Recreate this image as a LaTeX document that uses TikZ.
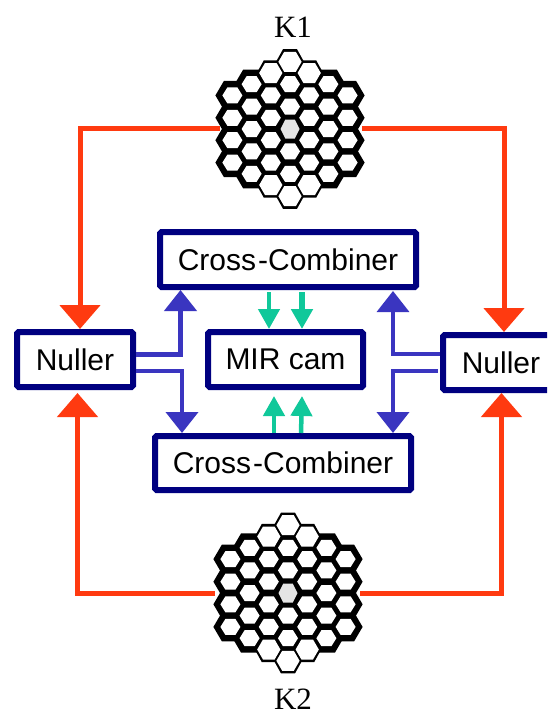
\documentclass[tikz,border=0pt]{standalone}
\usepackage{fontspec}
\setmainfont{Liberation Sans}
\newfontfamily\serifkay{Liberation Serif}
\usetikzlibrary{arrows.meta,calc}
\definecolor{navybox}{HTML}{000080}
\definecolor{redline}{HTML}{FF3A10}
\definecolor{blueline}{HTML}{3A35C0}
\definecolor{greenline}{HTML}{10C89A}
\definecolor{mirror}{HTML}{E4E4E4}
\tikzset{
  boxnode/.style={draw=navybox,line width=6pt,fill=white,rounded corners=1.5pt,inner sep=0pt,font=\fontsize{30}{32}\selectfont,text=black},
  redarrow/.style={draw=redline,line width=5pt,-{Triangle[width=40pt,length=24pt]}},
  bluearrow/.style={draw=blueline,line width=4pt,-{Triangle[width=32pt,length=21pt]}},
  greenarrow/.style={draw=greenline,line width=4.5pt,-{Triangle[width=21pt,length=20pt]}},
  telescope/.style={font=\serifkay\fontsize{31}{33}\selectfont,inner sep=0pt},
}
% hexagon path: centre x, centre y, half width, half height
\newcommand{\hexpath}[4]{
  ({#1-(#3)},{#2}) -- ({#1-(#3)/2},{#2-(#4)}) -- ({#1+(#3)/2},{#2-(#4)}) --
  ({#1+(#3)},{#2}) -- ({#1+(#3)/2},{#2+(#4)}) -- ({#1-(#3)/2},{#2+(#4)}) -- cycle}
% honeycomb: cx, cy, row spacing
\newcommand{\honeycomb}[3]{
  \foreach \cc/\nn in {-3/4,-2/5,-1/6,0/7,1/6,2/5,3/4}{
    \foreach \ii in {1,...,\nn}{
      \pgfmathsetmacro{\rr}{\ii-(\nn+1)/2}
      \pgfmathsetmacro{\xx}{#1+\cc*19.2}
      \pgfmathsetmacro{\yy}{#2+\rr*#3}
      \pgfmathsetmacro{\thin}{(abs(\cc)<=1 && abs(\rr)+abs(\cc)/2>=2.9) ? 1 : 0}
      \ifnum\thin=1\relax
        \fill[black] \hexpath{\xx}{\yy}{14}{12.6};
      \else
        \fill[black] \hexpath{\xx}{\yy}{17}{14.5};
      \fi
    }
  }
  \foreach \cc/\nn in {-3/4,-2/5,-1/6,0/7,1/6,2/5,3/4}{
    \foreach \ii in {1,...,\nn}{
      \pgfmathsetmacro{\rr}{\ii-(\nn+1)/2}
      \pgfmathsetmacro{\xx}{#1+\cc*19.2}
      \pgfmathsetmacro{\yy}{#2+\rr*#3}
      \pgfmathsetmacro{\thin}{(abs(\cc)<=1 && abs(\rr)+abs(\cc)/2>=2.9) ? 1 : 0}
      \pgfmathsetmacro{\mid}{(\cc==0 && \rr==0) ? 1 : 0}
      \ifnum\thin=1\relax
        \fill[white] \hexpath{\xx}{\yy}{11.6}{10};
      \else\ifnum\mid=1\relax
        \fill[mirror] \hexpath{\xx}{\yy}{9.5}{9.5};
      \else
        \fill[white] \hexpath{\xx}{\yy}{10}{8};
      \fi\fi
    }
  }
}
\begin{document}
\begin{tikzpicture}[x=1pt,y=-1pt]
\useasboundingbox (0,0) rectangle (547,715);
\clip (0,0) rectangle (547,715);
\fill[white] (0,0) rectangle (547,715);

\honeycomb{290}{129}{22.4}
\honeycomb{288}{593}{22.6}

\node[telescope] (k1) at (293,27) {K1};
\node[telescope] (k2) at (293,699) {K2};

\coordinate (k1w) at (220,128);
\coordinate (k1e) at (362,128);
\coordinate (k2w) at (215,593);
\coordinate (k2e) at (360,593);

\node[boxnode,minimum width=256pt,minimum height=55pt] (cct) at (288,259.5) {Cross\kern2pt-Combiner};
\node[boxnode,minimum width=155pt,minimum height=55pt] (mir) at (285.5,359.5) {MIR cam};
\node[boxnode,minimum width=256pt,minimum height=54pt] (ccb) at (283,463) {Cross\kern2pt-Combiner};
\node[boxnode,minimum width=116pt,minimum height=55pt] (nl) at (75,359.5) {Nuller};
\node[boxnode,minimum width=116pt,minimum height=55pt] (nr) at (501,362.5) {Nuller};

% telescope beams
\draw[redarrow] (k1w) -| ([xshift=5pt]nl.north);
\draw[redarrow] (k1e) -| ([xshift=3pt]nr.north);
\draw[redarrow] (k2w) -| ([xshift=2.5pt,yshift=-3pt]nl.south);
\draw[redarrow] (k2e) -| ([xshift=0.5pt]nr.south);

% nuller outputs
\draw[bluearrow,line width=4.5pt] ([yshift=5pt]nl.east) -| ([xshift=-107.5pt]cct.south);
\draw[bluearrow] ([yshift=-11.5pt]nl.east) -| ([xshift=-101pt]ccb.north);
\draw[bluearrow,line width=3.5pt] ([yshift=8.5pt]nr.west) -| ([xshift=105pt,yshift=-1pt]cct.south);
\draw[bluearrow] ([shift={(-2.5pt,-8.5pt)}]nr.west) -| ([xshift=110pt]ccb.north);

% combiner outputs
\draw[greenarrow] ([xshift=-19pt,yshift=-2pt]cct.south) -- ([xshift=-16.5pt]mir.north);
\draw[greenarrow,line width=6pt] ([xshift=14pt,yshift=-2pt]cct.south) -- ([xshift=16.5pt]mir.north);
\draw[greenarrow] ([xshift=-9pt]ccb.north) -- ([xshift=-11.5pt,yshift=-6pt]mir.south);
\draw[greenarrow] ([xshift=18pt]ccb.north) -- ([xshift=16.5pt,yshift=-6pt]mir.south);
\end{tikzpicture}
\end{document}
